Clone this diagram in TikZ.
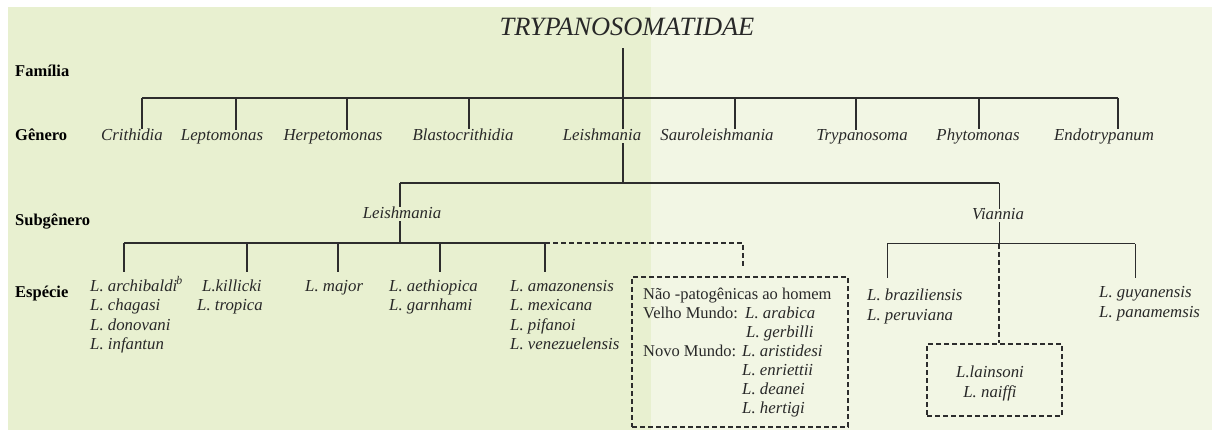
\documentclass[tikz,border=0pt]{standalone}
\usepackage{fontspec}
\setmainfont{Liberation Serif}
\definecolor{bgL}{RGB}{232,240,208}
\definecolor{bgR}{RGB}{242,246,228}
\definecolor{ln}{RGB}{45,45,45}
\definecolor{tx}{RGB}{40,40,40}
\begin{document}
\begin{tikzpicture}[x=1pt,y=-1pt,
  tree/.style={draw=ln, line width=1.6pt},
  thintree/.style={draw=ln, line width=1pt},
  dline/.style={draw=ln, line width=1.5pt, dash pattern=on 5pt off 3pt},
  dthin/.style={draw=ln, line width=1.1pt, dash pattern=on 5pt off 3pt},
  dbox/.style={draw=ln, line width=2.2pt, dash pattern=on 5pt off 3pt, inner sep=0pt},
  lab/.style={inner sep=0pt, anchor=base, text=tx, font=\fontsize{16.8}{20}\selectfont\itshape},
  sp/.style={inner sep=0pt, anchor=base west, text=tx, font=\fontsize{16.8}{20}\selectfont\itshape},
  up/.style={inner sep=0pt, anchor=base west, text=tx, font=\fontsize{16.5}{20}\selectfont},
  rowlab/.style={inner sep=0pt, anchor=base west, text=black, font=\fontsize{16.5}{20}\selectfont\bfseries}]
\useasboundingbox (0,0) rectangle (1212,430);
\fill[white] (0,0) rectangle (1212,430);
\fill[bgL] (8,7) rectangle (651,430);
\fill[bgR] (651,7) rectangle (1212,430);

% title and row labels
\node[inner sep=0pt, anchor=base, text=tx, font=\fontsize{26.4}{30}\selectfont\itshape] (title) at (627,36) {TRYPANOSOMATIDAE};
\node[rowlab] (rfam) at (15,77) {Família};
\node[rowlab] (rgen) at (15,141) {Gênero};
\node[rowlab] (rsub) at (15,226) {Subgênero};
\node[rowlab] (resp) at (15,297) {Espécie};

% genera
\node[lab] (crith) at (132,141) {Crithidia};
\node[lab] (lepto) at (222,141) {Leptomonas};
\node[lab] (herpe) at (333,141) {Herpetomonas};
\node[lab] (blast) at (463,141) {Blastocrithidia};
\node[lab] (leish) at (602,141) {Leishmania};
\node[lab] (sauro) at (717,141) {Sauroleishmania};
\node[lab] (trypa) at (862,141) {Trypanosoma};
\node[lab] (phyto) at (978,141) {Phytomonas};
\node[lab] (endot) at (1104,141) {Endotrypanum};

\coordinate (jF) at (623,98);
\coordinate (gL) at (142,98);
\coordinate (gR) at (1118,98);
\draw[tree, shorten <=12pt] (title.south -| jF) -- (jF);
\draw[tree] (gL) -- (gR);
\foreach \n/\x in {crith/142,lepto/236,herpe/347,blast/469,leish/623,sauro/735,trypa/856,phyto/979,endot/1118}{
  \coordinate (t\n) at (\x,98);
  \draw[tree] (t\n) -- (t\n |- \n.north);
}

% subgenera
\node[lab] (subL) at (402,219) {Leishmania};
\node[lab] (subV) at (998,220) {Viannia};
\coordinate (jS) at (623,183);
\coordinate (sL) at (400,183);
\coordinate (sR) at (999,183);
\draw[tree, shorten <=2pt] (leish.south -| jS) -- (jS);
\draw[tree] (sL) -- (sR);
\draw[tree] (sL) -- (sL |- subL.north);
\draw[thintree] (sR) -- (sR |- subV.north);

% species, subgenus Leishmania
\node[sp] (a1) at (90,291) {L. archibaldi\kern-1pt\textsuperscript{b}};
\node[sp] (a2) at (90,310.5) {L. chagasi};
\node[sp] (a3) at (90,330) {L. donovani};
\node[sp] (a4) at (90,349.5) {L. infantun};
\node[sp] (b1) at (202,291) {L.killicki};
\node[sp] (b2) at (197,310.5) {L. tropica};
\node[sp] (c1) at (305,291) {L. major};
\node[sp] (d1) at (389,291) {L. aethiopica};
\node[sp] (d2) at (389,310.5) {L. garnhami};
\node[sp] (e1) at (510,291) {L. amazonensis};
\node[sp] (e2) at (510,310.5) {L. mexicana};
\node[sp] (e3) at (510,330) {L. pifanoi};
\node[sp] (e4) at (510,349.5) {L. venezuelensis};

\coordinate (kM) at (400,243);
\coordinate (kL) at (124,243);
\coordinate (kR) at (545,243);
\coordinate (kD) at (743,243);
\draw[tree, shorten <=2pt] (subL.south -| kM) -- (kM);
\draw[tree] (kL) -- (kR);
\foreach \n/\x in {a1/124,b1/247,c1/338,d1/440,e1/545}{
  \coordinate (k\n) at (\x,243);
  \draw[tree] (k\n) -- (\x,272);
}

% box of non-pathogenic species
\node[dbox, minimum width=216pt, minimum height=150pt] (box1) at (740,352) {};
\draw[dline, shorten >=7pt] (kR) -- (kD) -- (kD |- box1.north);
\node[up] (n1) at (643,299) {Não -patogênicas ao homem};
\node[up] (n2) at (643,318) {Velho Mundo:};
\node[sp] (n3) at (745,318) {L. arabica};
\node[sp] (n4) at (746,337) {L. gerbilli};
\node[up] (n5) at (643,356) {Novo Mundo:};
\node[sp] (n6) at (742,356) {L. aristidesi};
\node[sp] (n7) at (742,375) {L. enriettii};
\node[sp] (n8) at (742,394) {L. deanei};
\node[sp] (n9) at (742,413) {L. hertigi};

% species, subgenus Viannia
\node[sp] (v1) at (867,300) {L. braziliensis};
\node[sp] (v2) at (867,320) {L. peruviana};
\node[sp] (w1) at (1099,297) {L. guyanensis};
\node[sp] (w2) at (1099,317) {L. panamemsis};
\node[dbox, minimum width=135pt, minimum height=72pt] (box2) at (994.5,380) {};
\node[lab] (x1) at (990,377) {L.lainsoni};
\node[lab] (x2) at (990,397) {L. naiffi};

\coordinate (vM) at (999,244);
\coordinate (vL) at (887,244);
\coordinate (vR) at (1135,244);
\draw[thintree, shorten <=2pt] (subV.south -| vM) -- (vM);
\draw[thintree] (vL) -- (vR);
\draw[thintree] (vL) -- (887,278);
\draw[thintree] (vR) -- (1135,278);
\draw[dthin] (vM) -- (vM |- box2.north);
\end{tikzpicture}
\end{document}
